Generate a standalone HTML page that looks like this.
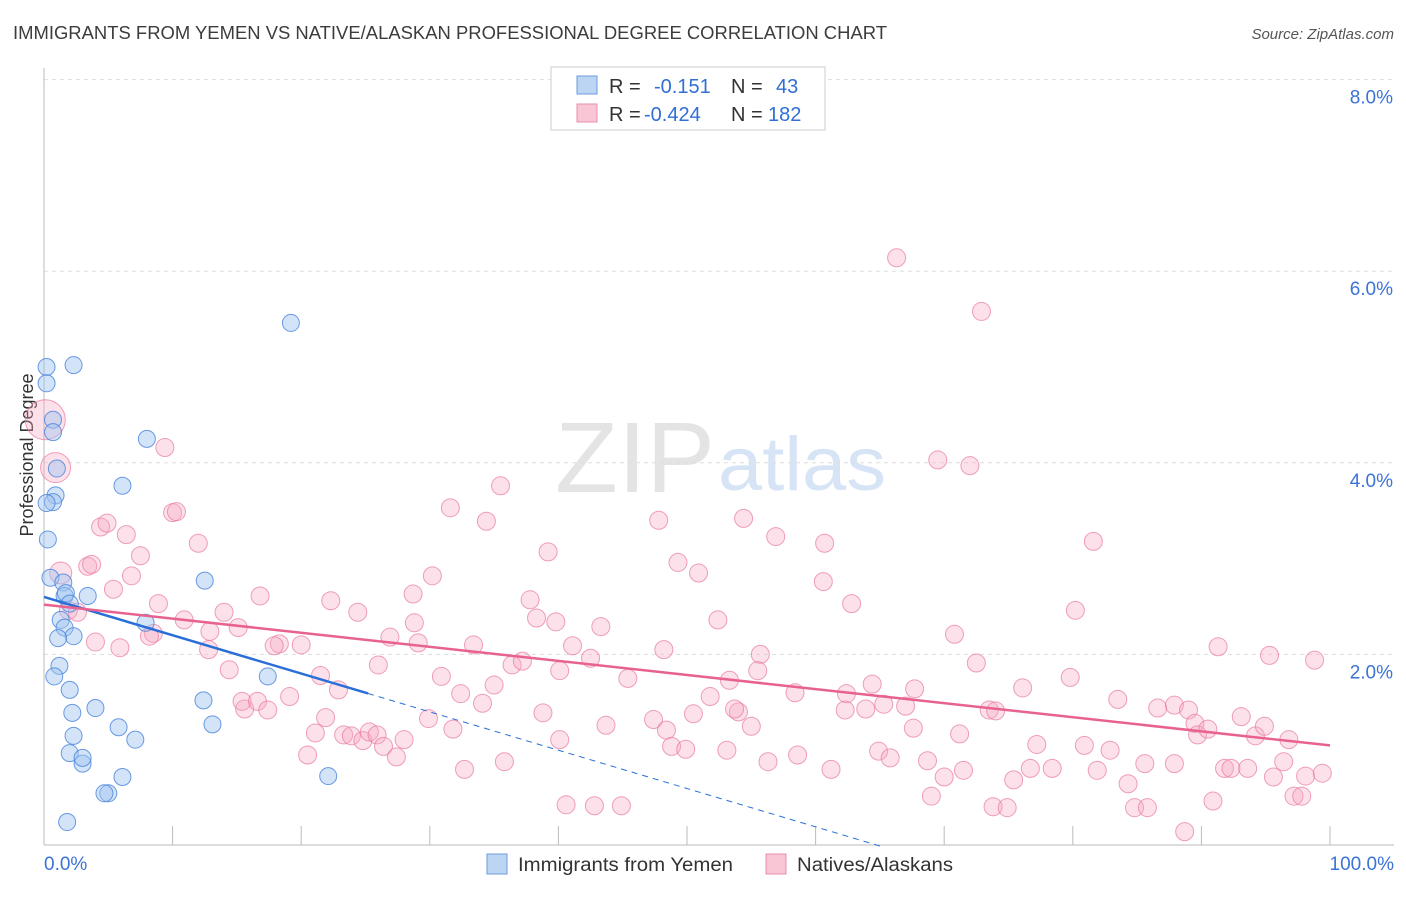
<!DOCTYPE html>
<html><head><meta charset="utf-8"><style>
body{margin:0;background:#fff;font-family:"Liberation Sans",sans-serif}
svg text{font-family:"Liberation Sans",sans-serif}
</style></head><body>
<svg id="c" width="1406" height="892" xmlns="http://www.w3.org/2000/svg">
<text x="13" y="39" font-size="18" fill="#3c3c3c" textLength="874" lengthAdjust="spacingAndGlyphs">IMMIGRANTS FROM YEMEN VS NATIVE/ALASKAN PROFESSIONAL DEGREE CORRELATION CHART</text>
<text x="1394" y="39" font-size="15" fill="#555" font-style="italic" text-anchor="end">Source: ZipAtlas.com</text>
<text x="555" y="492" font-size="100" fill="#e4e4e4" font-family="Liberation Serif" textLength="160" lengthAdjust="spacingAndGlyphs">ZIP</text>
<text x="718" y="490" font-size="76" fill="#d6e4f5" textLength="168" lengthAdjust="spacingAndGlyphs">atlas</text>
<text transform="translate(33,455) rotate(-90)" font-size="18" fill="#333" text-anchor="middle">Professional Degree</text>
<g id="grid"></g><g id="pts"></g><g id="trend"></g>
<g>
<rect x="551" y="67" width="274" height="63" fill="#fff" stroke="#ccc"/>
<rect x="577" y="76" width="20" height="18" fill="#bcd5f3" stroke="#6b9be0"/>
<rect x="577" y="104" width="20" height="18" fill="#f9c6d6" stroke="#ea8fae"/>
<text y="93" font-size="20" fill="#333"><tspan x="609">R =</tspan><tspan x="654" fill="#2f6fd6">-0.151</tspan><tspan x="731">N =</tspan><tspan x="776" fill="#2f6fd6">43</tspan></text>
<text y="121" font-size="20" fill="#333"><tspan x="609">R =</tspan><tspan x="644" fill="#2f6fd6">-0.424</tspan><tspan x="731">N =</tspan><tspan x="768" fill="#2f6fd6">182</tspan></text>
</g>
<g>
<rect x="487" y="854" width="20" height="20" fill="#bcd5f3" stroke="#6b9be0"/>
<text x="518" y="871" font-size="19" fill="#333" textLength="215" lengthAdjust="spacingAndGlyphs">Immigrants from Yemen</text>
<rect x="766" y="854" width="20" height="20" fill="#f9c6d6" stroke="#ea8fae"/>
<text x="797" y="871" font-size="19" fill="#333" textLength="156" lengthAdjust="spacingAndGlyphs">Natives/Alaskans</text>
</g>
</svg>
<script>
const yTicks=[2,4,6,8];
const xTickLabels=["0.0%","100.0%"];
const blueX=[0.2,0.2,2.3,19.2,0.7,0.7,8.0,1.0,0.9,0.7,0.2,6.1,0.3,0.5,1.5,1.6,1.7,3.4,2.0,7.9,12.5,1.3,1.6,2.3,1.1,1.2,0.8,2.0,4.0,12.4,2.2,5.8,7.1,13.1,17.4,2.3,2.0,3.0,3.0,6.1,5.0,4.7,1.8,22.1];
const blueY=[5.00,4.83,5.02,5.46,4.45,4.32,4.25,3.94,3.66,3.59,3.58,3.76,3.20,2.80,2.75,2.61,2.64,2.61,2.53,2.33,2.77,2.36,2.28,2.19,2.17,1.88,1.77,1.63,1.44,1.52,1.39,1.24,1.11,1.27,1.77,1.15,0.97,0.86,0.92,0.72,0.55,0.55,0.25,0.73];
const pinkX=[0.1,0.9,9.4,1.3,4.4,4.9,6.4,7.5,6.8,5.4,3.4,3.7,10.0,10.3,12.0,8.9,10.9,8.5,8.2,5.9,4.0,1.9,2.6,12.9,14.0,15.1,12.8,14.4,15.6,15.4,16.6,17.4,16.8,18.3,17.9,20.0,19.1,20.5,21.1,21.5,22.3,21.9,22.9,23.3,23.9,24.4,24.8,25.3,25.9,26.4,27.4,28.0,26.9,26.0,28.7,29.1,28.8,30.2,30.9,29.9,31.6,31.8,32.4,32.7,33.4,34.1,35.5,34.4,35.0,35.8,36.4,37.2,37.8,38.3,39.2,38.8,39.8,40.1,40.1,40.6,41.1,42.5,43.3,42.8,43.7,44.9,45.4,47.8,47.4,48.4,48.8,49.9,49.3,50.9,48.2,50.5,51.8,52.4,53.3,53.1,54.4,54.0,53.7,55.0,56.3,55.7,55.5,56.9,58.6,58.4,60.7,60.6,61.2,62.8,62.3,62.4,64.4,63.9,64.9,65.3,65.8,67.0,67.6,67.7,66.3,68.7,70.8,69.5,72.0,72.5,72.9,71.2,70.0,69.0,73.5,74.0,71.5,73.8,74.9,75.4,76.1,76.7,77.2,78.4,79.8,80.9,80.2,81.6,81.9,82.9,83.5,84.3,84.8,85.6,85.8,86.6,87.9,87.9,89.0,88.7,89.5,89.7,90.5,91.3,91.8,92.3,93.6,93.1,94.2,94.9,95.6,96.4,96.8,97.2,97.8,98.1,99.4,98.8,95.3,90.9];
const pinkY=[4.45,3.95,4.16,2.85,3.33,3.37,3.25,3.03,2.82,2.68,2.92,2.94,3.48,3.49,3.16,2.53,2.36,2.22,2.19,2.07,2.13,2.46,2.44,2.24,2.44,2.28,2.05,1.84,1.43,1.51,1.51,1.42,2.61,2.11,2.09,2.10,1.56,0.95,1.18,1.78,2.56,1.34,1.63,1.16,1.15,2.44,1.10,1.19,1.16,1.04,0.93,1.11,2.18,1.89,2.63,2.12,2.33,2.82,1.77,1.33,3.53,1.22,1.59,0.80,2.10,1.49,3.76,3.39,1.68,0.88,1.89,1.93,2.57,2.38,3.07,1.39,2.34,1.11,1.83,0.43,2.09,1.96,2.29,0.42,1.26,0.42,1.75,3.40,1.32,1.21,1.04,1.01,2.96,2.85,2.05,1.38,1.56,2.36,1.73,1.00,3.42,1.40,1.43,1.25,0.88,2.00,1.83,3.23,0.95,1.60,3.16,2.76,0.80,2.53,1.42,1.59,1.69,1.43,0.99,1.48,0.92,1.46,1.23,1.64,6.14,0.89,2.21,4.03,3.97,1.91,5.58,1.17,0.72,0.52,1.42,1.41,0.79,0.41,0.40,0.69,1.65,0.81,1.06,0.81,1.76,1.05,2.46,3.18,0.79,1.00,1.53,0.65,0.40,0.86,0.40,1.44,1.47,0.86,1.42,0.15,1.28,1.16,1.22,2.08,0.81,0.81,0.81,1.35,1.15,1.25,0.72,0.88,1.11,0.52,0.52,0.73,0.76,1.94,1.99,0.47];
const blueTrend=[2.60,-0.040];
const pinkTrend=[2.52,-0.0147];
const NS="http://www.w3.org/2000/svg";
const X=v=>44+v*12.86, Y=v=>846-v*95.8;
function mk(t,a,p){const e=document.createElementNS(NS,t);for(const k in a)e.setAttribute(k,a[k]);p.appendChild(e);return e;}
const grid=document.getElementById('grid');
yTicks.forEach(t=>{
 const l=mk('line',{x1:44,x2:1394,y1:Y(t),y2:Y(t),stroke:'#ddd','stroke-dasharray':'4,4'},grid);
 
 
 const tx=mk('text',{x:1393,y:Y(t)+24,'font-size':19,fill:'#3b73d6','text-anchor':'end'},grid);tx.textContent=t.toFixed(1)+'%';
 
 
});
const ax=mk('line',{x1:44,x2:1394,y1:845,y2:845,stroke:'#bbb'},grid);


const ay=mk('line',{x1:44,x2:44,y1:68,y2:845,stroke:'#bbb'},grid);


for(let i=1;i<=10;i++){const tk=mk('line',{x1:X(i*10),x2:X(i*10),y1:826,y2:845,stroke:'#bbb'},grid);
 
 }
const xl0=mk('text',{x:44,y:870,'font-size':19,fill:'#3b73d6'},grid);xl0.textContent=xTickLabels[0];


const xl1=mk('text',{x:1394,y:870,'font-size':19,fill:'#3b73d6','text-anchor':'end'},grid);xl1.textContent=xTickLabels[1];


const pts=document.getElementById('pts');
pinkX.forEach((x,i)=>{const r=i==0?20:(i==1?15:(i==3?11:9));
 const c=mk('circle',{cx:X(x),cy:Y(pinkY[i]),r:r,fill:'rgba(246,170,195,0.35)',stroke:'rgba(232,120,158,0.7)','stroke-width':1},pts);
 
 });
blueX.forEach((x,i)=>{
 const c=mk('circle',{cx:X(x),cy:Y(blueY[i]),r:8.5,fill:'rgba(160,195,240,0.45)',stroke:'rgba(70,130,220,0.8)','stroke-width':1},pts);
 
 });
const tr=document.getElementById('trend');
const bEnd=25.2, bZero=-blueTrend[0]/blueTrend[1];
const b1=mk('line',{x1:X(0),y1:Y(blueTrend[0]),x2:X(bEnd),y2:Y(blueTrend[0]+blueTrend[1]*bEnd),stroke:'#2a6fd8','stroke-width':2.5},tr);


const b2=mk('line',{x1:X(bEnd),y1:Y(blueTrend[0]+blueTrend[1]*bEnd),x2:X(bZero),y2:Y(0),stroke:'#2a6fd8','stroke-width':1,'stroke-dasharray':'6,5'},tr);


const p1=mk('line',{x1:X(0),y1:Y(pinkTrend[0]),x2:X(100),y2:Y(pinkTrend[0]+pinkTrend[1]*100),stroke:'#e8628f','stroke-width':2.5},tr);


</script>
</body></html>
